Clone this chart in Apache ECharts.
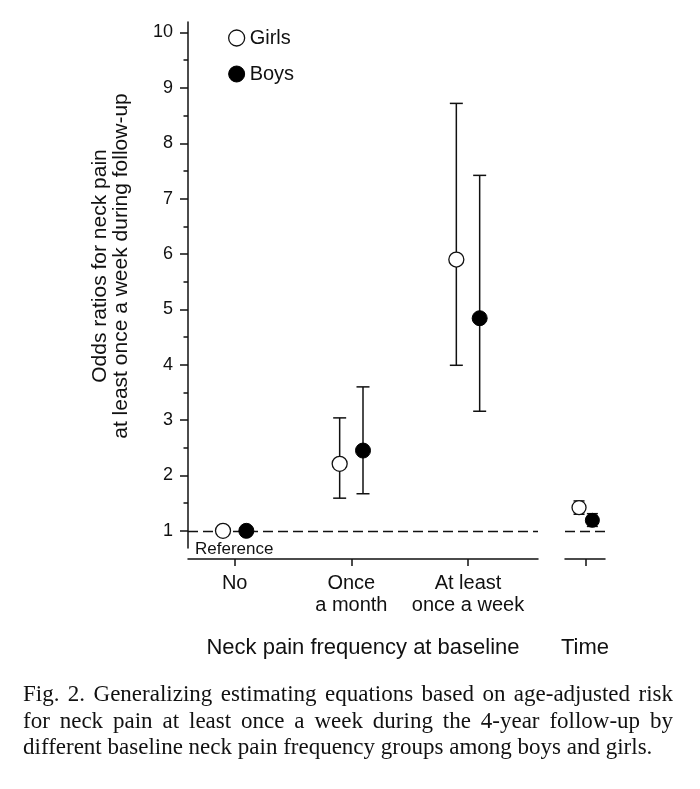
<!DOCTYPE html>
<html>
<head>
<meta charset="utf-8">
<script src="https://cdn.jsdelivr.net/npm/echarts@6/dist/echarts.min.js"></script>
<style>
html,body{margin:0;padding:0;background:#fff;}
#chart{width:700px;height:789px;}
</style>
</head>
<body>
<div id="chart"></div>
<script>
// ---- data ----
const categories = ['No', 'Once\na month', 'At least\nonce a week', 'Time'];
const girlsOR   = [1.00, 2.21, 5.90, 1.42];
const girlsLow  = [null, 1.59, 3.99, 1.30];
const girlsHigh = [null, 3.04, 8.72, 1.54];
const boysOR    = [1.00, 2.45, 4.84, 1.19];
const boysLow   = [null, 1.67, 3.16, 1.08];
const boysHigh  = [null, 3.60, 7.42, 1.31];
const yTickLabels = [1, 2, 3, 4, 5, 6, 7, 8, 9, 10];
const yMinorTicks = [1.5, 2.5, 3.5, 4.5, 5.5, 6.5, 7.5, 8.5, 9.5];
const captionLines = [
  'Fig. 2. Generalizing estimating equations based on age-adjusted risk',
  'for neck pain at least once a week during the 4-year follow-up by',
  'different baseline neck pain frequency groups among boys and girls.'
];

const SANS = 'Liberation Sans';
const SERIF = 'Liberation Serif';
const INK = '#111';

// group offsets (in category units)
const OFF_MAIN = 0.1, OFF_TIME = 0.057;
function xPos(i, sign) { return i + sign * (i === 3 ? OFF_TIME : OFF_MAIN); }

function pts(vals, sign, grid) {
  const out = [];
  vals.forEach((v, i) => {
    if ((grid === 0 && i < 3) || (grid === 1 && i === 3)) out.push([xPos(i, sign), v]);
  });
  return out;
}
function bars(lo, hi, sign, grid) {
  const out = [];
  lo.forEach((l, i) => {
    if (l == null) return;
    if ((grid === 0 && i < 3) || (grid === 1 && i === 3)) out.push([xPos(i, sign), l, hi[i], i === 3 ? 5.5 : 6.5]);
  });
  return out;
}

function renderErr(params, api) {
  const x = api.value(0), lo = api.value(1), hi = api.value(2), hw = api.value(3);
  const a = api.coord([x, lo]), b = api.coord([x, hi]);
  const st = { stroke: INK, lineWidth: 1.5 };
  return {
    type: 'group',
    children: [
      { type: 'line', shape: { x1: a[0], y1: a[1], x2: b[0], y2: b[1] }, style: st },
      { type: 'line', shape: { x1: a[0] - hw, y1: a[1], x2: a[0] + hw, y2: a[1] }, style: st },
      { type: 'line', shape: { x1: b[0] - hw, y1: b[1], x2: b[0] + hw, y2: b[1] }, style: st }
    ]
  };
}

const YMIN = 0.69, YMAX = 10.19;
const axisLineX = { show: true, onZero: false, lineStyle: { color: INK, width: 1.5 } };
const axisLineY = { show: true, onZero: false, lineStyle: { color: INK, width: 1.5 } };

const dashLine = {
  silent: true, symbol: 'none', label: { show: false },
  lineStyle: { color: INK, width: 1.4, type: [10, 5] },
  data: [{ yAxis: 1 }]
};

const girlsStyle = { color: '#fff', borderColor: '#111', borderWidth: 1.3, opacity: 1 };
const boysStyle = { color: '#000', borderColor: '#000', borderWidth: 1, opacity: 1 };

// caption (justified)
const mctx = document.createElement('canvas').getContext('2d');
const capFont = '23px "' + SERIF + '"';
mctx.font = capFont;
const CAP_L = 23, CAP_R = 673;
const capBaseY = [695, 722, 748];
const captionGraphics = [];
captionLines.forEach((line, li) => {
  const words = line.split(' ');
  const widths = words.map(w => mctx.measureText(w).width);
  const total = widths.reduce((s, w) => s + w, 0);
  const justify = li < captionLines.length - 1;
  const gap = justify ? (CAP_R - CAP_L - total) / (words.length - 1) : mctx.measureText(' ').width;
  let x = CAP_L;
  words.forEach((w, wi) => {
    captionGraphics.push({
      type: 'text', x: x, y: capBaseY[li], silent: true,
      style: { text: w, font: capFont, fill: '#111', textAlign: 'left', textVerticalAlign: 'middle' }
    });
    x += widths[wi] + gap;
  });
});

const chart = echarts.init(document.getElementById('chart'), null, { renderer: 'canvas' });
chart.setOption({
  backgroundColor: '#fff',
  animation: false,
  textStyle: { fontFamily: SANS, color: INK },
  grid: [
    { left: 188, right: 162, top: 22, bottom: 789 - 548 },
    { left: 565, right: 95, top: 22, bottom: 789 - 548 }
  ],
  legend: {
    data: [
      { name: 'Girls', itemStyle: girlsStyle },
      { name: 'Boys', itemStyle: boysStyle }
    ],
    orient: 'vertical', left: 223, top: 23,
    itemWidth: 16, itemHeight: 16, itemGap: 16, itemTextGap: 6,
    icon: 'circle',
    textStyle: { fontFamily: SANS, fontSize: 20, color: INK },
    selectedMode: false
  },
  xAxis: [
    {
      type: 'value', gridIndex: 0, min: -0.4, max: 2.6, offset: 11,
      axisLine: axisLineX,
      axisTick: { show: true, length: 7, customValues: [0, 1, 2], lineStyle: { color: INK, width: 1.5 } },
      axisLabel: {
        customValues: [0, 1, 2], margin: 13, fontSize: 20, lineHeight: 22, color: INK, fontFamily: SANS,
        formatter: v => categories[Math.round(v)]
      },
      splitLine: { show: false },
      name: 'Neck pain frequency at baseline', nameLocation: 'middle', nameGap: 78,
      nameTextStyle: { fontSize: 22, color: INK, fontFamily: SANS }
    },
    {
      type: 'value', gridIndex: 1, min: 2.823, max: 3.165, offset: 11,
      axisLine: axisLineX,
      axisTick: { show: true, length: 7, customValues: [3], lineStyle: { color: INK, width: 1.5 } },
      axisLabel: { show: false, customValues: [3] },
      splitLine: { show: false },
      name: categories[3], nameLocation: 'middle', nameGap: 78,
      nameTextStyle: { fontSize: 22, color: INK, fontFamily: SANS }
    }
  ],
  yAxis: [
    {
      type: 'value', gridIndex: 0, min: YMIN, max: YMAX, position: 'left',
      axisLine: axisLineY,
      axisTick: { show: true, length: 8, customValues: yTickLabels, lineStyle: { color: INK, width: 1.5 } },
      axisLabel: { customValues: yTickLabels, margin: 15, fontSize: 18, color: INK, fontFamily: SANS },
      splitLine: { show: false }
    },
    {
      type: 'value', gridIndex: 0, min: YMIN, max: YMAX, position: 'left', offset: 0,
      axisLine: { show: false, onZero: false },
      axisTick: { show: true, length: 4.5, customValues: yMinorTicks, lineStyle: { color: INK, width: 1.5 } },
      axisLabel: { show: false, customValues: yMinorTicks },
      splitLine: { show: false }
    },
    {
      type: 'value', gridIndex: 1, min: YMIN, max: YMAX, show: false,
      axisLine: { onZero: false },
      splitLine: { show: false }
    }
  ],
  series: [
    { type: 'custom', name: 'Girls', xAxisIndex: 0, yAxisIndex: 0, z: 1, renderItem: renderErr, itemStyle: girlsStyle,
      encode: { x: 0, y: [1, 2] }, data: bars(girlsLow, girlsHigh, -1, 0), markLine: dashLine },
    { type: 'custom', name: 'Boys', xAxisIndex: 0, yAxisIndex: 0, z: 1, renderItem: renderErr, itemStyle: boysStyle,
      encode: { x: 0, y: [1, 2] }, data: bars(boysLow, boysHigh, 1, 0) },
    { type: 'custom', name: 'Girls', xAxisIndex: 1, yAxisIndex: 2, z: 1, renderItem: renderErr, itemStyle: girlsStyle,
      encode: { x: 0, y: [1, 2] }, data: bars(girlsLow, girlsHigh, -1, 1), markLine: dashLine },
    { type: 'custom', name: 'Boys', xAxisIndex: 1, yAxisIndex: 2, z: 1, renderItem: renderErr, itemStyle: boysStyle,
      encode: { x: 0, y: [1, 2] }, data: bars(boysLow, boysHigh, 1, 1) },
    { type: 'scatter', name: 'Girls', xAxisIndex: 0, yAxisIndex: 0, z: 5, symbol: 'circle', symbolSize: 15,
      itemStyle: girlsStyle, data: pts(girlsOR, -1, 0) },
    { type: 'scatter', name: 'Boys', xAxisIndex: 0, yAxisIndex: 0, z: 5, symbol: 'circle', symbolSize: 15,
      itemStyle: boysStyle, data: pts(boysOR, 1, 0) },
    { type: 'scatter', name: 'Girls', xAxisIndex: 1, yAxisIndex: 2, z: 5, symbol: 'circle', symbolSize: 14,
      itemStyle: girlsStyle, data: pts(girlsOR, -1, 1) },
    { type: 'scatter', name: 'Boys', xAxisIndex: 1, yAxisIndex: 2, z: 5, symbol: 'circle', symbolSize: 14,
      itemStyle: boysStyle, data: pts(boysOR, 1, 1) }
  ],
  graphic: [
    {
      type: 'text', x: 110.5, y: 266, rotation: Math.PI / 2, silent: true,
      style: {
        text: 'Odds ratios for neck pain\nat least once a week during follow-up',
        font: '21px "' + SANS + '"', lineHeight: 21, fill: INK,
        textAlign: 'center', textVerticalAlign: 'middle'
      }
    },
    {
      type: 'text', x: 195, y: 549, silent: true,
      style: { text: 'Reference', font: '17px "' + SANS + '"', fill: INK, textAlign: 'left', textVerticalAlign: 'middle' }
    }
  ].concat(captionGraphics)
});
</script>
</body>
</html>
